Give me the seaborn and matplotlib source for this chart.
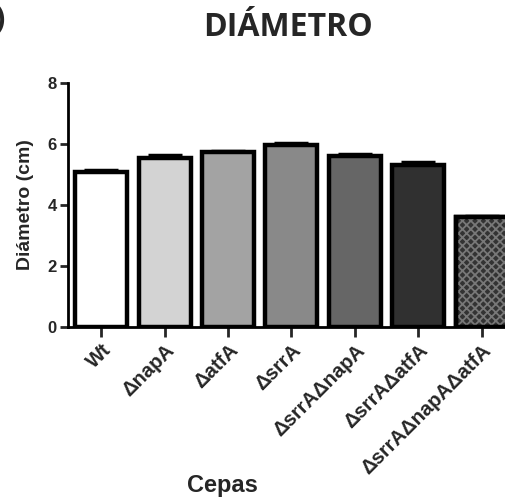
import numpy as np
import pandas as pd
import matplotlib
matplotlib.use("Agg")
import matplotlib.pyplot as plt
import seaborn as sns

# datos
cepas = ["Wt", "ΔnapA", "ΔatfA", "ΔsrrA", "ΔsrrAΔnapA", "ΔsrrAΔatfA", "ΔsrrAΔnapAΔatfA"]
diametro = [5.08, 5.55, 5.74, 5.97, 5.60, 5.30, 3.61]
error = [0.07, 0.07, 0.04, 0.05, 0.06, 0.09, 0.04]
colores = ["#ffffff", "#d3d3d3", "#a3a3a3", "#898989", "#666666", "#303030", "#333333"]

sns.set_theme(style="ticks")
plt.rcParams["font.family"] = ["Liberation Sans", "DejaVu Sans"]
plt.rcParams["hatch.linewidth"] = 1.3

df = pd.DataFrame({"Cepas": cepas, "Diametro": diametro})

fig = plt.figure(figsize=(5.06, 4.99), dpi=100)
ax = fig.add_axes([0.134, 0.345, 0.864, 0.489])

sns.barplot(data=df, x="Cepas", y="Diametro", hue="Cepas", palette=colores,
            legend=False, width=0.82, edgecolor="black", linewidth=3.2,
            errorbar=None, ax=ax, zorder=3)

# barra triple con trama
ax.bar(len(cepas) - 1, diametro[-1], width=0.82, facecolor="none",
       edgecolor="#787878", hatch="xxxx", linewidth=0, zorder=4)
ax.bar(len(cepas) - 1, diametro[-1], width=0.82, facecolor="none",
       edgecolor="black", linewidth=3.2, zorder=5)

ax.errorbar(np.arange(len(cepas)), diametro, yerr=[np.zeros(len(cepas)), error],
            fmt="none", ecolor="black", elinewidth=2.5, capsize=12, capthick=2.5,
            zorder=2)

ax.set_ylim(0, 8)
ax.set_xlim(-0.53, 6.37)
ax.set_yticks([0, 2, 4, 6, 8])
ax.set_yticklabels(["0", "2", "4", "6", "8"], fontsize=12, fontweight="bold")
ax.set_xticks(range(len(cepas)))
ax.set_xticklabels(cepas, rotation=45, ha="right", rotation_mode="anchor",
                   fontsize=14.5, fontweight="bold")
ax.tick_params(axis="y", length=6, width=2, pad=2)
ax.tick_params(axis="x", length=7, width=2, pad=3)

for s in ["top", "right"]:
    ax.spines[s].set_visible(False)
for s in ["left", "bottom"]:
    ax.spines[s].set_linewidth(2)
    ax.spines[s].set_color("black")

ax.set_xlabel("")
ax.set_ylabel("Diámetro (cm)", fontsize=14, fontweight="bold", labelpad=10)

fig.text(0.439, 0.028, "Cepas", fontsize=17, fontweight="bold", ha="center", va="center")
fig.text(0.57, 0.945, "DIÁMETRO", fontsize=23, fontweight="bold", ha="center",
         va="center", family=["Open Sans", "DejaVu Sans"])
fig.text(0.008, 0.99, ")", fontsize=22, fontweight="bold", ha="right", va="top",
         family=["Open Sans", "DejaVu Sans"])

fig.savefig("out.png", dpi=100)
